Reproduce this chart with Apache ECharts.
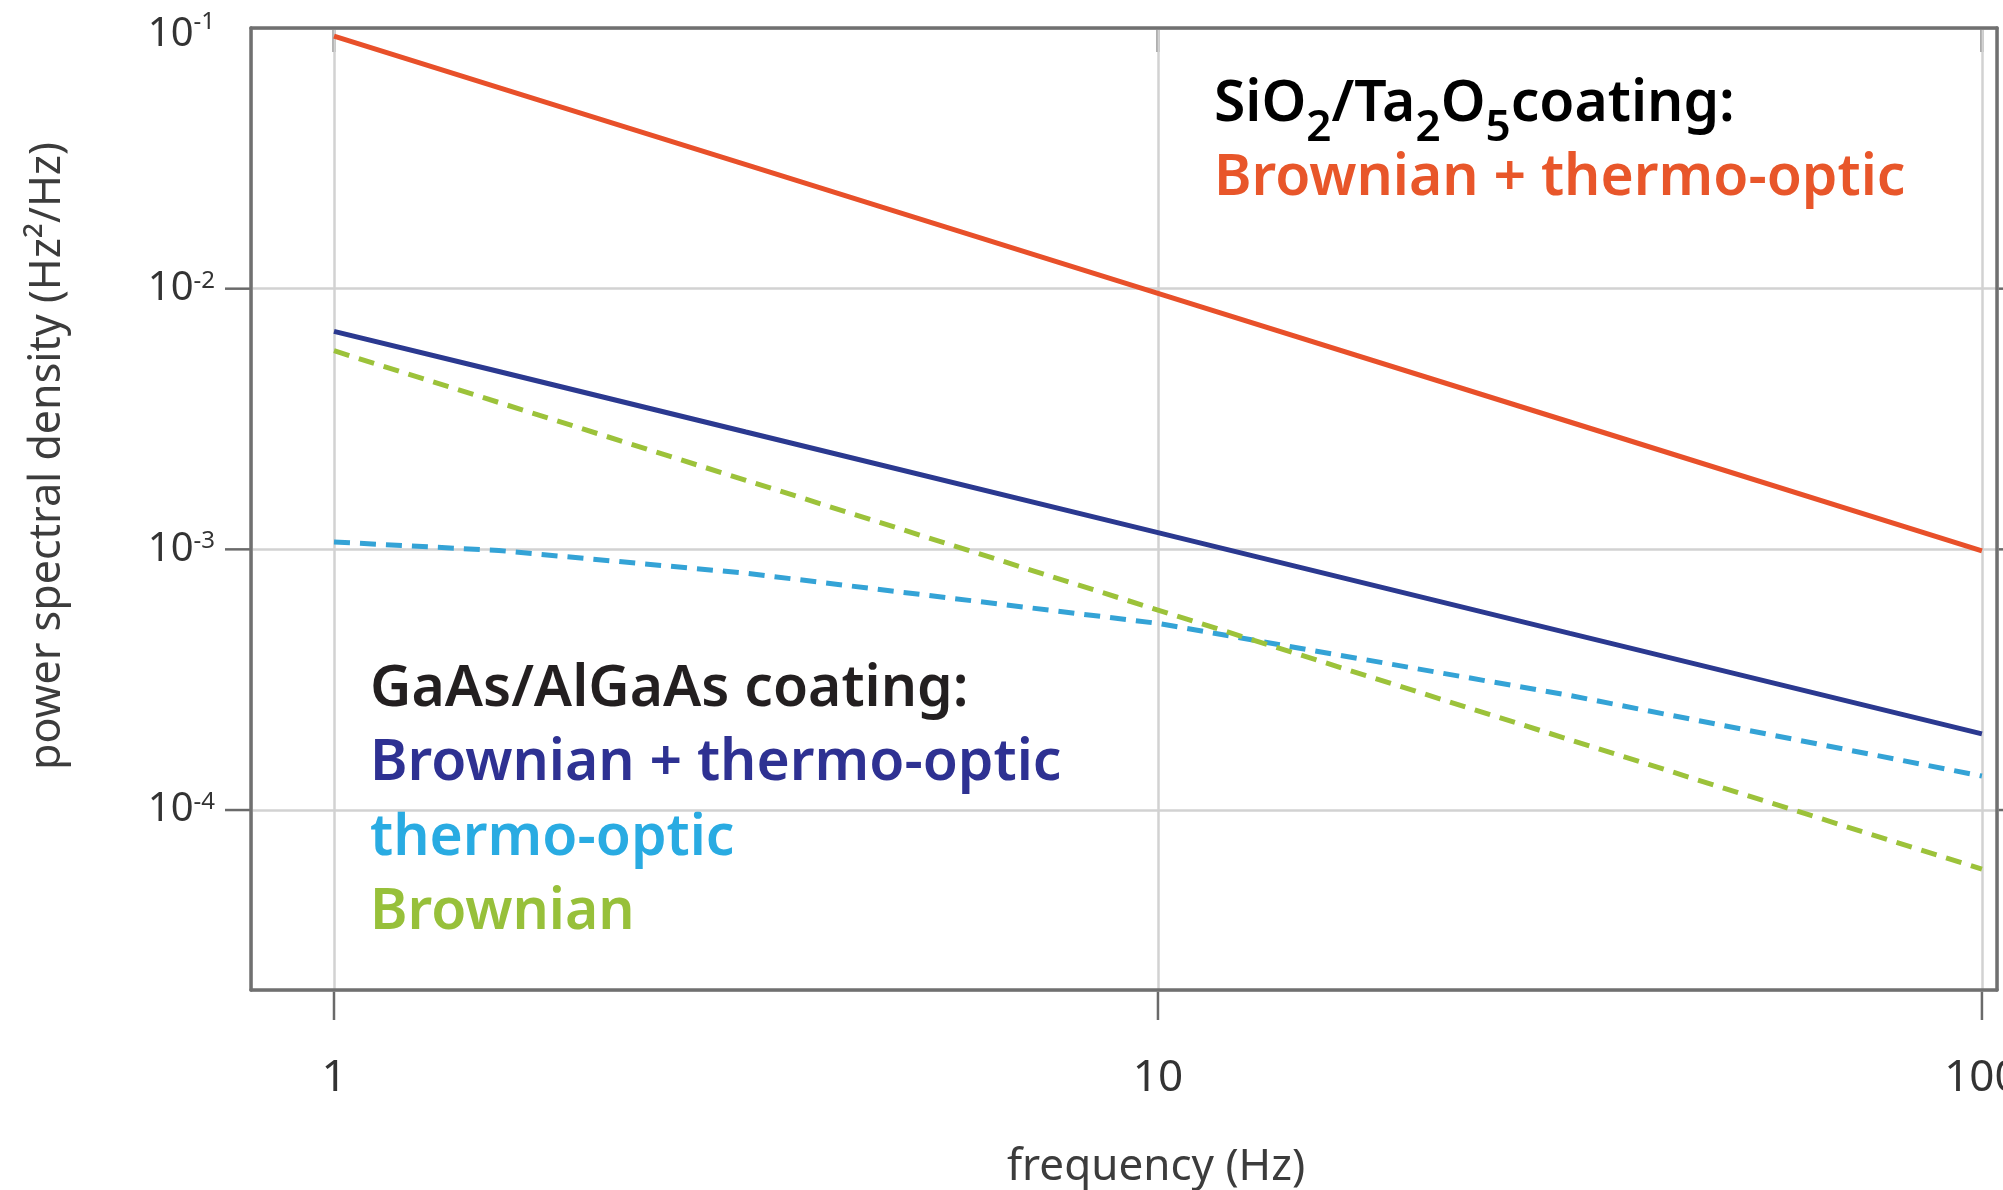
<!DOCTYPE html>
<html>
<head>
<meta charset="utf-8">
<title>power spectral density</title>
<script src="https://cdn.jsdelivr.net/npm/echarts@6/dist/echarts.min.js"></script>
<style>
html, body { margin: 0; padding: 0; background: #fff; }
#main { width: 2003px; height: 1190px; }
</style>
</head>
<body>
<div id="main"></div>
<script>
// frequency (Hz)
var freq = [1, 1.585, 3.162, 10, 31.62, 100];
// SiO2/Ta2O5 coating, Brownian + thermo-optic
var sioTotal = [0.0931, 0.0591, 0.0299, 0.0096, 0.00308, 0.000986];
// GaAs/AlGaAs coating
var gaasTotal = [0.00686, 0.00481, 0.00282, 0.00116, 0.000476, 0.000196];
var gaasThermo = [0.001067, 0.00099, 0.00081, 0.00052, 0.000275, 0.000135];
var gaasBrownian = [0.00578, 0.00366, 0.00184, 0.000585, 0.000186, 0.0000593];

var xTickVals = [1, 10, 100];
var yTickVals = [0.1, 0.01, 0.001, 0.0001];
var xMin = 0.793, xMax = 104.3;
var yMin = 0.0000204, yMax = 0.1;

var FONT = 'Noto Sans';
var frameColor = '#707070';
var tickColor = '#6a6a6a';

function pairs(ys) {
	return freq.map(function (f, i) { return [f, ys[i]]; });
}
function findTick(list, v) {
	for (var i = 0; i < list.length; i++) {
		if (Math.abs(Math.log10(list[i]) - Math.log10(v)) < 1e-6) return list[i];
	}
	return null;
}

var myChart = echarts.init(document.getElementById('main'));

var subRich = {
	n: { fontFamily: FONT, fontWeight: 600, fontSize: 57, lineHeight: 90, color: '#231f20' },
	b: { fontFamily: FONT, fontWeight: 600, fontSize: 44, lineHeight: 42, verticalAlign: 'bottom', color: '#231f20' }
};

function note(id, x, y, text, color) {
	return {
		type: 'text', id: id, x: x, y: y,
		style: {
			text: text, fill: color, fontFamily: FONT, fontWeight: 600, fontSize: 57,
			align: 'left', verticalAlign: 'middle'
		}
	};
}

var graphics = [
	{
		type: 'text', id: 'sioTitle', x: 1214, y: 105,
		style: {
			text: '{n|SiO}{b|2}{n|/Ta}{b|2}{n|O}{b|5}{n|coating:}',
			rich: subRich, align: 'left', verticalAlign: 'middle'
		}
	},
	note('sioTot', 1214, 179, 'Brownian + thermo-optic', '#e8562a'),
	note('gaTitle', 370, 690, 'GaAs/AlGaAs coating:', '#231f20'),
	note('gaTot', 370, 764, 'Brownian + thermo-optic', '#2e3192'),
	note('gaTo', 370, 839, 'thermo-optic', '#29abe2'),
	note('gaBr', 370, 913, 'Brownian', '#97c03a'),
	{
		type: 'text', id: 'yName', x: 48, y: 456, rotation: Math.PI / 2,
		style: {
			text: 'power spectral density (Hz²/Hz)', fill: '#3c3c3c', fontFamily: FONT, fontSize: 43,
			align: 'center', verticalAlign: 'middle'
		}
	},
	{
		type: 'text', id: 'xName', x: 1156, y: 1167,
		style: {
			text: 'frequency (Hz)', fill: '#3c3c3c', fontFamily: FONT, fontSize: 44,
			align: 'center', verticalAlign: 'middle'
		}
	}
];

var option = {
	animation: false,
	backgroundColor: '#fff',
	grid: { left: 251, right: 6, top: 28, bottom: 200, outerBoundsMode: 'none', containLabel: false },
	xAxis: [
		{
			type: 'log', logBase: 10, min: xMin, max: xMax, position: 'bottom',
			axisLine: { show: true, lineStyle: { color: frameColor, width: 3.5 } },
			axisTick: { show: false },
			axisLabel: {
				margin: 66, fontFamily: FONT, fontSize: 44, color: '#333',
				formatter: function (v) {
					var t = findTick(xTickVals, v);
					return t === null ? '' : String(t);
				}
			},
			splitLine: { show: true, lineStyle: { color: '#d2d2d2', width: 2.5 } }
		},
		{
			type: 'log', logBase: 10, min: xMin, max: xMax, position: 'top',
			axisLine: { show: true, lineStyle: { color: frameColor, width: 3.5 } },
			axisTick: { show: false }, axisLabel: { show: false }, splitLine: { show: false }
		}
	],
	yAxis: [
		{
			type: 'log', logBase: 10, min: yMin, max: yMax, position: 'left',
			axisLine: { show: true, lineStyle: { color: frameColor, width: 3.5 } },
			axisTick: { show: false },
			axisLabel: {
				margin: 36, color: '#333',
				formatter: function (v) {
					var t = findTick(yTickVals, v);
					if (t === null) return '';
					var e = Math.round(Math.log10(t));
					// the top label sits a little below its decade line
					if (t === yMax) return '{bt|10}{st|' + e + '}';
					return '{b|10}{s|' + e + '}';
				},
				rich: {
					b: { fontFamily: FONT, fontSize: 40, lineHeight: 40, color: '#333' },
					s: { fontFamily: FONT, fontSize: 24, verticalAlign: 'top', color: '#333' },
					bt: { fontFamily: FONT, fontSize: 40, lineHeight: 40, padding: [14, 0, 0, 0], color: '#333' },
					st: { fontFamily: FONT, fontSize: 24, verticalAlign: 'top', padding: [2, 0, 0, 0], color: '#333' }
				}
			},
			splitLine: { show: true, lineStyle: { color: '#d2d2d2', width: 2.5 } }
		},
		{
			type: 'log', logBase: 10, min: yMin, max: yMax, position: 'right',
			axisLine: { show: true, lineStyle: { color: frameColor, width: 3.5 } },
			axisTick: { show: false }, axisLabel: { show: false }, splitLine: { show: false }
		}
	],
	series: [
		{
			name: 'SiO2/Ta2O5 Brownian + thermo-optic', type: 'line', data: pairs(sioTotal),
			showSymbol: false, lineStyle: { color: '#e8502a', width: 5 }
		},
		{
			name: 'GaAs/AlGaAs Brownian + thermo-optic', type: 'line', data: pairs(gaasTotal),
			showSymbol: false, lineStyle: { color: '#2b3990', width: 5 }
		},
		{
			name: 'GaAs/AlGaAs thermo-optic', type: 'line', data: pairs(gaasThermo),
			showSymbol: false, lineStyle: { color: '#34a3d6', width: 5, type: [16, 10] }
		},
		{
			name: 'GaAs/AlGaAs Brownian', type: 'line', data: pairs(gaasBrownian),
			showSymbol: false, lineStyle: { color: '#9cc23a', width: 5, type: [16, 10] }
		}
	],
	graphic: graphics
};

myChart.setOption(option);

// tick marks only at the decades, placed through the axis scales
var ticks = [];
xTickVals.forEach(function (v) {
	var b = myChart.convertToPixel({ gridIndex: 0 }, [v, yMin]);
	var t = myChart.convertToPixel({ gridIndex: 0 }, [v, yMax]);
	ticks.push({ type: 'line', shape: { x1: b[0], y1: b[1], x2: b[0], y2: b[1] + 30 }, style: { stroke: tickColor, lineWidth: 2.5 } });
	ticks.push({ type: 'line', shape: { x1: t[0], y1: t[1], x2: t[0], y2: t[1] + 24 }, style: { stroke: tickColor, lineWidth: 3 } });
});
yTickVals.forEach(function (v) {
	if (v >= yMax) return;
	var l = myChart.convertToPixel({ gridIndex: 0 }, [xMin, v]);
	var r = myChart.convertToPixel({ gridIndex: 0 }, [xMax, v]);
	ticks.push({ type: 'line', shape: { x1: l[0] - 26, y1: l[1], x2: l[0], y2: l[1] }, style: { stroke: tickColor, lineWidth: 2.5 } });
	ticks.push({ type: 'line', shape: { x1: r[0], y1: r[1], x2: r[0] + 12, y2: r[1] }, style: { stroke: tickColor, lineWidth: 2.5 } });
});
myChart.setOption({ graphic: graphics.concat(ticks) });
</script>
</body>
</html>
